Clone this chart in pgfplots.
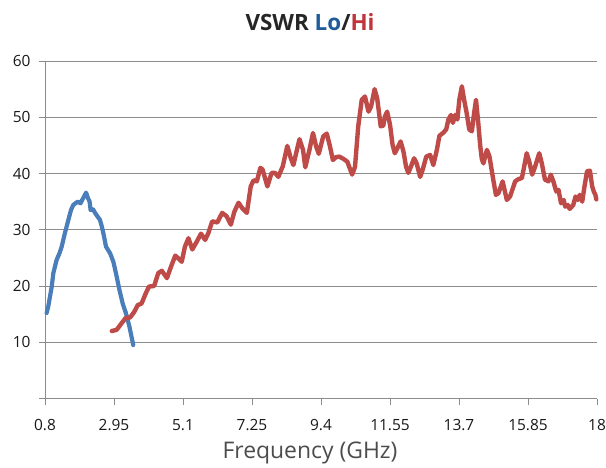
\documentclass[border=0pt]{standalone}
\usepackage{fontspec}
\setmainfont{Open Sans}
\usepackage{pgfplots}
\pgfplotsset{compat=1.18}
\definecolor{loblue}{HTML}{4A7EBB}
\definecolor{hired}{HTML}{BE4B48}
\definecolor{titleblue}{HTML}{1F5C99}
\definecolor{titlered}{HTML}{C0343C}
\definecolor{gridgray}{HTML}{8C8C8C}
\begin{document}
\begin{tikzpicture}
\path[use as bounding box] (0,0) rectangle (606bp,468bp);
\begin{axis}[
  at={(45bp,69.5bp)}, anchor=origin,
  scale only axis, width=552bp, height=337.5bp,
  xmin=0.8, xmax=18, ymin=0, ymax=60,
  axis x line=bottom, axis y line=left,
  axis line style={-, gridgray, line width=0.9bp},
  xtick={0.8,2.95,5.1,7.25,9.4,11.55,13.7,15.85,18},
  xticklabels={0.8,2.95,5.1,7.25,9.4,11.55,13.7,15.85,18},
  ytick={0,10,20,30,40,50,60},
  yticklabels={,10,20,30,40,50,60},
  tick align=outside, major tick length=6bp,
  tick style={gridgray, line width=0.9bp},
  ymajorgrids, grid style={gridgray, line width=0.9bp},
  xticklabel style={font=\fontsize{15.5}{18}\selectfont, text=black!90, yshift=-11bp},
  yticklabel style={font=\fontsize{15.5}{18}\selectfont, text=black!90, xshift=-5bp},
  clip=false,
]
\addplot[loblue, line width=4.2bp, line join=round, line cap=round] coordinates {
(0.85,15.2)(0.90,16.3)(1.01,19.9)(1.06,22.3)(1.16,24.6)(1.25,25.8)(1.32,27.0)
(1.42,29.4)(1.53,31.8)(1.61,33.5)(1.68,34.4)(1.82,35.0)(1.91,34.7)(1.96,35.3)
(2.08,36.6)(2.14,35.6)(2.19,35.0)(2.22,33.5)(2.29,33.7)(2.36,33.0)(2.43,32.4)
(2.51,31.8)(2.57,30.6)(2.64,28.8)(2.70,27.0)(2.83,25.8)(2.93,24.3)(3.01,22.3)
(3.12,19.3)(3.22,16.9)(3.32,15.2)(3.43,12.8)(3.55,9.5)
};
\addplot[hired, line width=4.4bp, line join=round, line cap=round] coordinates {
(2.88,12.0)(3.03,12.2)(3.19,13.4)(3.31,14.3)(3.45,14.4)(3.58,15.4)(3.69,16.6)
(3.81,16.9)(3.94,18.7)(4.04,19.9)(4.20,20.0)(4.33,22.3)(4.44,22.7)(4.60,21.4)
(4.73,23.5)(4.86,25.4)(4.96,24.9)(5.06,24.3)(5.16,27.0)(5.27,28.5)(5.39,26.5)
(5.53,27.9)(5.66,29.3)(5.79,28.2)(5.89,29.4)(6.01,31.5)(6.17,31.3)(6.32,33.0)
(6.46,32.4)(6.59,30.9)(6.70,33.2)(6.83,34.8)(6.95,33.8)(7.09,33.0)(7.21,37.7)
(7.30,38.8)(7.40,38.6)(7.51,41.0)(7.58,40.7)(7.73,37.7)(7.86,40.1)(7.97,40.1)
(8.07,39.4)(8.21,41.3)(8.35,44.9)(8.46,42.7)(8.54,41.5)(8.65,44.2)(8.73,46.1)
(8.84,44.2)(8.91,41.1)(9.04,44.2)(9.15,47.2)(9.25,44.8)(9.33,43.5)(9.47,46.6)
(9.58,47.1)(9.68,44.8)(9.77,42.4)(9.87,42.9)(9.97,43.0)(10.10,42.6)(10.22,42.1)
(10.37,39.8)(10.46,41.2)(10.56,48.4)(10.67,53.1)(10.77,53.7)(10.88,51.0)(10.96,51.9)
(11.07,55.0)(11.15,53.4)(11.26,48.4)(11.34,48.5)(11.39,50.1)(11.46,51.0)(11.55,48.7)
(11.63,45.1)(11.70,43.6)(11.78,44.5)(11.88,45.7)(11.97,43.9)(12.05,41.2)(12.12,40.1)
(12.20,41.2)(12.30,42.7)(12.38,41.8)(12.49,39.4)(12.57,40.7)(12.68,43.0)(12.80,43.3)
(12.90,41.5)(13.01,44.2)(13.09,46.7)(13.20,47.2)(13.30,47.8)(13.37,49.6)(13.45,50.4)
(13.51,49.0)(13.58,50.4)(13.65,49.6)(13.71,53.1)(13.79,55.5)(13.86,53.1)(13.94,50.7)
(14.02,47.8)(14.10,47.5)(14.17,50.7)(14.23,53.1)(14.30,49.0)(14.36,45.0)(14.41,42.6)
(14.46,41.8)(14.57,44.2)(14.65,43.0)(14.75,39.5)(14.85,36.2)(14.93,36.5)(15.06,38.6)
(15.19,35.3)(15.29,35.9)(15.45,38.6)(15.55,39.0)(15.66,39.2)(15.73,41.2)(15.81,43.6)
(15.89,42.1)(15.98,39.8)(16.07,41.2)(16.20,43.6)(16.28,41.8)(16.38,38.9)(16.49,38.6)
(16.56,39.8)(16.64,38.6)(16.73,36.8)(16.80,37.1)(16.88,34.7)(16.96,35.3)(17.01,34.1)
(17.09,34.4)(17.15,33.7)(17.26,34.4)(17.33,35.9)(17.40,35.3)(17.46,36.2)(17.54,35.0)
(17.61,37.7)(17.69,40.4)(17.78,40.5)(17.85,37.7)(17.90,36.8)(17.95,36.2)(17.98,35.4)
};
\end{axis}
\node[font=\fontsize{22.5}{26}\selectfont\bfseries, text=black!85] at (310bp,446bp)
  {VSWR \textcolor{titleblue}{Lo}/\textcolor{titlered}{Hi}};
\node[font=\fontsize{23}{26}\selectfont, text=black!70] at (310bp,15bp) {Frequency (GHz)};
\end{tikzpicture}
\end{document}
